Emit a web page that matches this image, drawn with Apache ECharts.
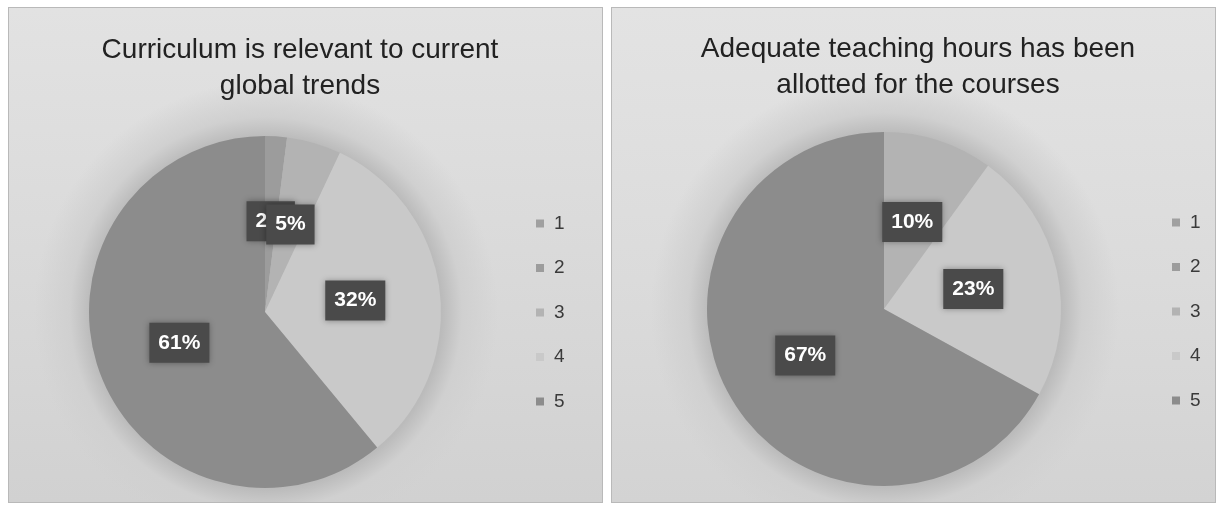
<!DOCTYPE html>
<html>
<head>
<meta charset="utf-8">
<script src="https://cdn.jsdelivr.net/npm/echarts@6/dist/echarts.min.js"></script>
<style>
  html, body { margin: 0; padding: 0; background: #fff; }
  .panel {
    position: absolute;
    top: 7px;
    height: 496px;
    border: 1px solid #b9b9b9;
    box-sizing: border-box;
  }
  #panelLeft {
    left: 8px; width: 595px;
    background:
      radial-gradient(circle at 257px 305px, #bbbbbb 0, #bbbbbb 176px, #d0d0d0 196px, rgba(220,220,220,0) 232px),
      linear-gradient(180deg, #e2e2e2 0%, #d9d9d9 55%, #d1d1d1 100%);
  }
  #panelRight {
    left: 611px; width: 605px;
    background:
      radial-gradient(circle at 273px 302px, #bbbbbb 0, #bbbbbb 177px, #d0d0d0 197px, rgba(220,220,220,0) 234px),
      linear-gradient(180deg, #e3e3e3 0%, #dbdbdb 55%, #d3d3d3 100%);
  }
  #chart { position: absolute; left: 0; top: 0; width: 1223px; height: 510px; }
</style>
</head>
<body>
<div class="panel" id="panelLeft"></div>
<div class="panel" id="panelRight"></div>
<div id="chart"></div>
<script>
// rating categories (1..5) and the share of answers for each
const categories = ['1', '2', '3', '4', '5'];
const curriculumValues = [0, 2, 5, 32, 61];
const teachingHoursValues = [0, 0, 10, 23, 67];
const curriculumTitle = 'Curriculum is relevant to current\nglobal trends';
const teachingHoursTitle = 'Adequate teaching hours has been\nallotted for the courses';

const sliceColors = ['#a0a0a0', '#9c9c9c', '#b3b3b3', '#c9c9c9', '#8c8c8c'];

function pieData(values) {
    return values.map((v, i) => ({
        name: categories[i],
        value: v,
        itemStyle: { color: sliceColors[i] },
        label: { show: v > 0 }
    }));
}

const labelStyle = {
    show: true,
    position: 'inside',
    formatter: '{c}%',
    color: '#fff',
    fontFamily: 'Liberation Sans',
    fontWeight: 'bold',
    fontSize: 21,
    lineHeight: 22,
    backgroundColor: '#4a4a4a',
    padding: [9, 9, 9, 9],
    shadowBlur: 6,
    shadowColor: 'rgba(0,0,0,0.35)'
};

const titleText = {
    color: '#222',
    fontFamily: 'Liberation Sans',
    fontWeight: 'normal',
    fontSize: 28,
    lineHeight: 36
};

const legendBase = {
    orient: 'vertical',
    icon: 'rect',
    itemWidth: 8,
    itemHeight: 8,
    itemGap: 25.5,
    selectedMode: false,
    data: categories,
    textStyle: {
        color: '#3a3a3a',
        fontFamily: 'Liberation Sans',
        fontSize: 19,
        lineHeight: 18,
        padding: [0, 0, 0, 5]
    }
};

const chart = echarts.init(document.getElementById('chart'));
chart.setOption({
    animation: false,
    title: [
        { text: curriculumTitle, left: 300, top: 32, textAlign: 'center', padding: 0, textStyle: titleText },
        { text: teachingHoursTitle, left: 918, top: 31, textAlign: 'center', padding: 0, textStyle: titleText }
    ],
    legend: [
        Object.assign({}, legendBase, { left: 536, top: 214, padding: 0 }),
        Object.assign({}, legendBase, { left: 1172, top: 213, padding: 0 })
    ],
    series: [
        {
            type: 'pie',
            center: [265, 312],
            radius: 176,
            startAngle: 90,
            clockwise: true,
            avoidLabelOverlap: false,
            labelLayout: { hideOverlap: false },
            data: pieData(curriculumValues),
            label: labelStyle,
            labelLine: { show: false },
            itemStyle: { borderWidth: 0 },
            emphasis: { disabled: true }
        },
        {
            type: 'pie',
            center: [884, 309],
            radius: 177,
            startAngle: 90,
            clockwise: true,
            avoidLabelOverlap: false,
            labelLayout: { hideOverlap: false },
            data: pieData(teachingHoursValues),
            label: labelStyle,
            labelLine: { show: false },
            itemStyle: { borderWidth: 0 },
            emphasis: { disabled: true }
        }
    ]
});
</script>
</body>
</html>
